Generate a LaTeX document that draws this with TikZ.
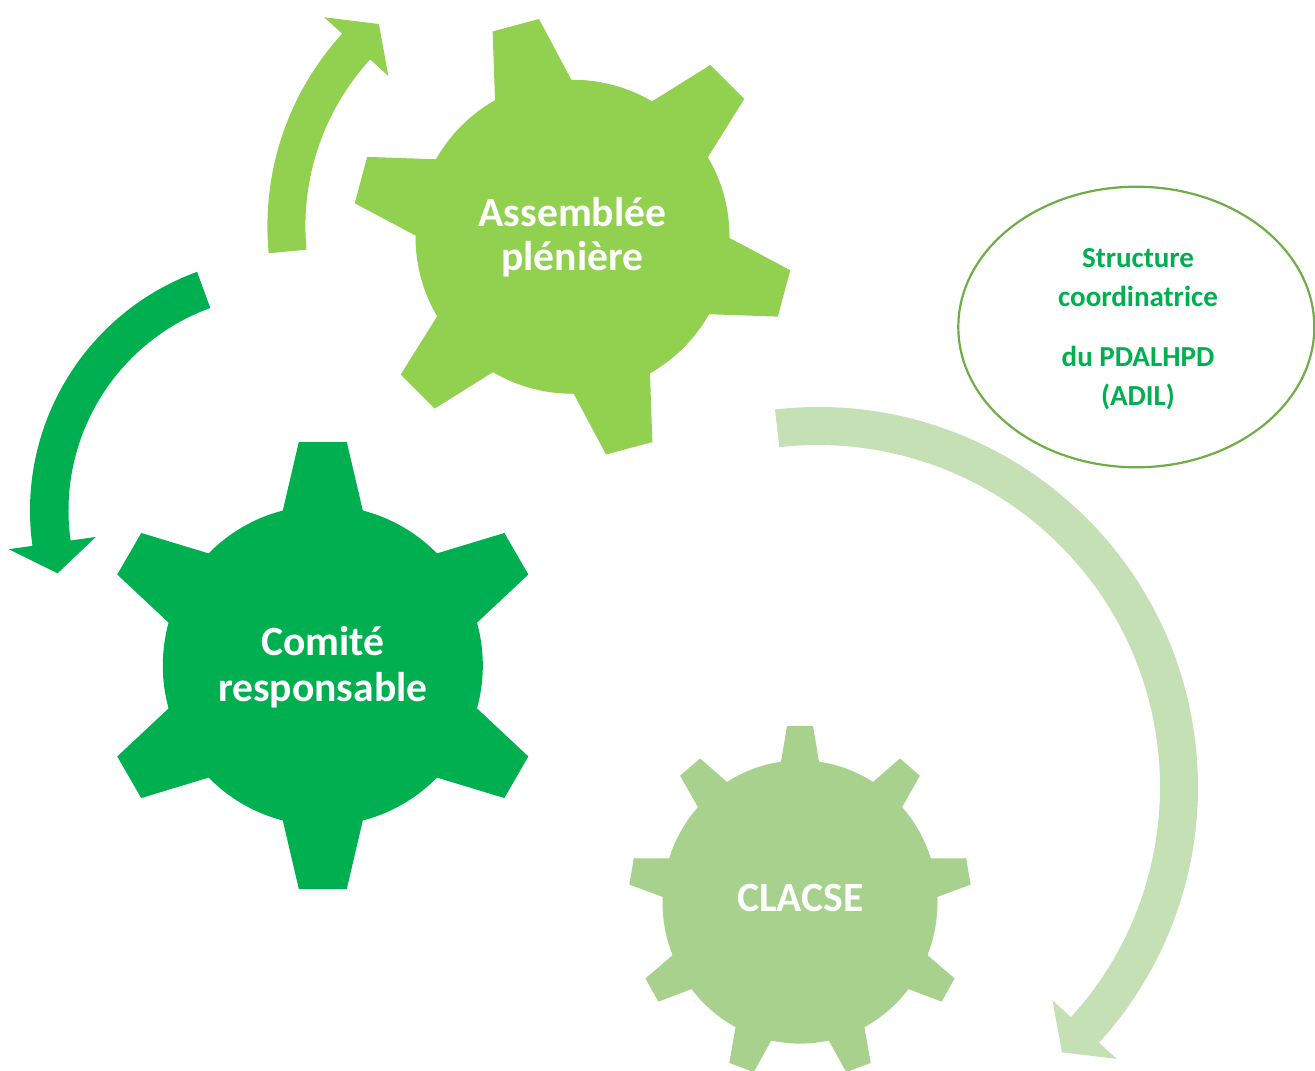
\documentclass[tikz,border=0pt]{standalone}
\usepackage{fontspec}
\setmainfont{Carlito}
\usetikzlibrary{calc,shapes.geometric}
\definecolor{cgearA}{HTML}{92D050}
\definecolor{cgearB}{HTML}{00B050}
\definecolor{cgearC}{HTML}{A9D18E}
\definecolor{carrowC}{HTML}{C5E0B4}
\definecolor{cell}{HTML}{70AD47}
% gear at current origin: #1 body radius, #2 outer radius, #3 outer half width, #4 base half width, #5 angles, #6 colour
\newcommand\mygear[6]{%
  \fill[#6] (0,0) circle[radius=#1];
  \pgfmathsetmacro\mydb{#1*sqrt(1-(#4/#1)*(#4/#1))}
  \foreach \a in {#5} {
    \fill[#6, rotate=\a] (0,#4) -- (\mydb,#4) -- (#2,#3) -- (#2,-#3) -- (\mydb,-#4) -- (0,-#4) -- cycle;
  }%
}
\begin{document}
\begin{tikzpicture}[x=0.5pt,y=0.5pt,
  gtext/.style={font=\bfseries\fontsize{20.8}{24}\selectfont, text=white, inner sep=0pt, anchor=base},
  etext/.style={font=\bfseries\fontsize{14.5}{17}\selectfont, text=cgearB, inner sep=0pt, anchor=base}]
\useasboundingbox (0,0) rectangle (1315,-1070);

% centres
\coordinate (cgA) at (572.5,-236.75);
\coordinate (cgB) at (322.8,-665.5);
\coordinate (cgC) at (800,-902);
\coordinate (caA) at (552,-226);
\coordinate (caB) at (284,-510.5);
\coordinate (caC) at (818,-787);

% arrow A (light green, upward)
\begin{scope}[shift={(caA)}]
\fill[cgearA] (185.5:284.6) arc[start angle=185.5,end angle=137.5,radius=284.6]
  -- (137.5:309) -- (130.6:266) -- (137.5:222) -- (137.5:246.6)
  arc[start angle=137.5,end angle=185.5,radius=246.6] -- cycle;
\end{scope}

% arrow B (dark green, downward)
\begin{scope}[shift={(caB)}]
\fill[cgearB] (110:254) arc[start angle=110,end angle=188,radius=254]
  -- (188:278) -- (195.5:235) -- (188:190) -- (188:215.5)
  arc[start angle=188,end angle=110,radius=215.5] -- cycle;
\end{scope}

% arrow C (pale green, big arc)
\begin{scope}[shift={(caC)}]
\fill[carrowC] (96.5:380) arc[start angle=96.5,end angle=-42.3,radius=380]
  -- (-42.3:404) -- (-47.4:360.5) -- (-42.3:317) -- (-42.3:342)
  arc[start angle=-42.3,end angle=96.5,radius=342] -- cycle;
\end{scope}

% gears
\begin{scope}[shift={(cgA)}]
\mygear{157}{219}{24}{39.5}{105,45,-15,-75,-135,165}{cgearA}
\end{scope}
\begin{scope}[shift={(cgB)}]
\mygear{160}{223.5}{24}{40}{90,30,-30,-90,-150,150}{cgearB}
\end{scope}
\begin{scope}[shift={(cgC)},yscale=1.03]
\mygear{137.5}{171}{13}{19}{90,50,10,-30,-70,-110,-150,170,130}{cgearC}
\end{scope}

% gear labels
\node[gtext] (tA1) at (572.5,-226.7) {Assemblée};
\node[gtext] (tA2) at (572.5,-270) {plénière};
\node[gtext] (tB1) at (322.8,-655) {Comité};
\node[gtext] (tB2) at (322.8,-701.7) {responsable};
\node[gtext] (tC1) at (800.3,-911) {CLACSE};

% ellipse
\node[draw=cell, line width=1.1pt, fill=white, ellipse, minimum width=178pt, minimum height=140.3pt, inner sep=0pt] (ell) at (1136.3,-327) {};
\node[etext] (e1) at (1138,-267.3) {Structure};
\node[etext] (e2) at (1138,-306) {coordinatrice};
\node[etext] (e3) at (1138,-366.7) {du PDALHPD};
\node[etext] (e4) at (1138,-405) {(ADIL)};
\end{tikzpicture}
\end{document}
